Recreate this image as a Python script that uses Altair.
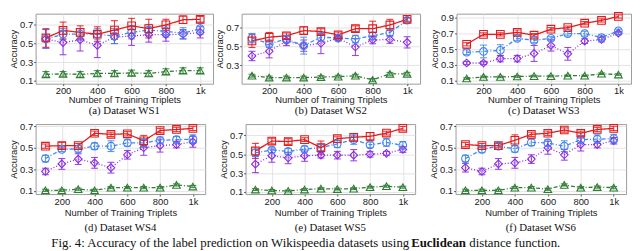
import altair as alt
import pandas as pd

X = [100, 200, 300, 400, 500, 600, 700, 800, 900, 1000]
SERIES = ["green", "purple", "blue", "red"]
COLORS = ["#2e7d32", "#8a2be2", "#3f86f0", "#e41a1c"]
SHAPES = ["triangle-up", "diamond", "circle", "square"]
DASHES = [[4, 2, 1, 2], [1, 2], [4, 2, 1, 2], [1, 0]]
X_TICKS = [200, 400, 600, 800, 1000]

# WS1
WS1_RED = [0.56, 0.64, 0.62, 0.60, 0.645, 0.69, 0.66, 0.70, 0.755, 0.76]
WS1_RED_ERR = [0.10, 0.09, 0.07, 0.08, 0.10, 0.08, 0.10, 0.06, 0.04, 0.03]
WS1_BLUE = [0.55, 0.60, 0.60, 0.60, 0.58, 0.62, 0.645, 0.63, 0.61, 0.66]
WS1_BLUE_ERR = [0.10, 0.06, 0.06, 0.06, 0.08, 0.07, 0.06, 0.06, 0.06, 0.06]
WS1_PURPLE = [0.55, 0.51, 0.54, 0.48, 0.57, 0.58, 0.595, 0.595, 0.60, 0.62]
WS1_PURPLE_ERR = [0.10, 0.13, 0.12, 0.13, 0.07, 0.10, 0.08, 0.07, 0.05, 0.06]
WS1_GREEN = [0.17, 0.175, 0.17, 0.18, 0.18, 0.185, 0.18, 0.20, 0.21, 0.21]
WS1_GREEN_ERR = [0.03, 0.025, 0.03, 0.03, 0.03, 0.03, 0.03, 0.03, 0.03, 0.03]

# WS2
WS2_RED = [0.56, 0.60, 0.615, 0.67, 0.66, 0.625, 0.69, 0.69, 0.73, 0.79]
WS2_RED_ERR = [0.07, 0.05, 0.03, 0.04, 0.03, 0.03, 0.03, 0.08, 0.06, 0.02]
WS2_BLUE = [0.59, 0.53, 0.58, 0.51, 0.60, 0.59, 0.58, 0.615, 0.65, 0.78]
WS2_BLUE_ERR = [0.05, 0.04, 0.04, 0.09, 0.04, 0.03, 0.04, 0.04, 0.04, 0.02]
WS2_PURPLE = [0.40, 0.45, 0.56, 0.51, 0.535, 0.59, 0.495, 0.57, 0.575, 0.545]
WS2_PURPLE_ERR = [0.05, 0.07, 0.05, 0.06, 0.11, 0.02, 0.09, 0.04, 0.04, 0.06]
WS2_GREEN = [0.19, 0.17, 0.17, 0.17, 0.175, 0.18, 0.19, 0.145, 0.21, 0.21]
WS2_GREEN_ERR = [0.015, 0.015, 0.015, 0.015, 0.015, 0.015, 0.015, 0.015, 0.015, 0.015]

# WS3
WS3_RED = [0.56, 0.685, 0.685, 0.71, 0.675, 0.75, 0.77, 0.825, 0.86, 0.91]
WS3_RED_ERR = [0.02, 0.02, 0.02, 0.03, 0.02, 0.02, 0.02, 0.02, 0.02, 0.02]
WS3_BLUE = [0.46, 0.47, 0.485, 0.635, 0.61, 0.635, 0.695, 0.695, 0.645, 0.73]
WS3_BLUE_ERR = [0.03, 0.08, 0.07, 0.03, 0.03, 0.02, 0.03, 0.03, 0.03, 0.02]
WS3_PURPLE = [0.325, 0.325, 0.38, 0.38, 0.445, 0.545, 0.44, 0.60, 0.62, 0.70]
WS3_PURPLE_ERR = [0.02, 0.02, 0.04, 0.04, 0.10, 0.07, 0.08, 0.03, 0.03, 0.02]
WS3_GREEN = [0.13, 0.15, 0.15, 0.155, 0.16, 0.16, 0.165, 0.165, 0.19, 0.18]
WS3_GREEN_ERR = [0.01, 0.01, 0.01, 0.01, 0.01, 0.01, 0.01, 0.01, 0.01, 0.01]

# WS4
WS4_RED = [0.515, 0.52, 0.52, 0.635, 0.625, 0.63, 0.565, 0.66, 0.67, 0.68]
WS4_RED_ERR = [0.02, 0.03, 0.02, 0.02, 0.02, 0.02, 0.05, 0.02, 0.02, 0.02]
WS4_BLUE = [0.40, 0.485, 0.49, 0.515, 0.515, 0.545, 0.545, 0.57, 0.575, 0.58]
WS4_BLUE_ERR = [0.03, 0.02, 0.03, 0.03, 0.05, 0.03, 0.04, 0.03, 0.03, 0.04]
WS4_PURPLE = [0.28, 0.35, 0.395, 0.36, 0.315, 0.435, 0.50, 0.52, 0.53, 0.555]
WS4_PURPLE_ERR = [0.03, 0.05, 0.05, 0.05, 0.05, 0.04, 0.07, 0.06, 0.03, 0.05]
WS4_GREEN = [0.105, 0.105, 0.115, 0.105, 0.13, 0.13, 0.13, 0.13, 0.155, 0.14]
WS4_GREEN_ERR = [0.01, 0.01, 0.01, 0.01, 0.01, 0.01, 0.01, 0.01, 0.01, 0.01]

# WS5
WS5_RED = [0.535, 0.64, 0.635, 0.655, 0.57, 0.665, 0.68, 0.69, 0.725, 0.775]
WS5_RED_ERR = [0.08, 0.03, 0.03, 0.02, 0.07, 0.02, 0.04, 0.04, 0.02, 0.02]
WS5_BLUE = [0.515, 0.545, 0.53, 0.555, 0.57, 0.61, 0.655, 0.60, 0.625, 0.595]
WS5_BLUE_ERR = [0.04, 0.03, 0.03, 0.03, 0.03, 0.04, 0.05, 0.03, 0.04, 0.04]
WS5_PURPLE = [0.395, 0.485, 0.46, 0.485, 0.49, 0.49, 0.49, 0.50, 0.51, 0.55]
WS5_PURPLE_ERR = [0.09, 0.07, 0.06, 0.06, 0.03, 0.04, 0.06, 0.03, 0.02, 0.03]
WS5_GREEN = [0.125, 0.115, 0.11, 0.125, 0.135, 0.13, 0.135, 0.15, 0.16, 0.15]
WS5_GREEN_ERR = [0.01, 0.01, 0.01, 0.01, 0.01, 0.01, 0.01, 0.01, 0.01, 0.01]

# WS6
WS6_RED = [0.53, 0.52, 0.52, 0.57, 0.625, 0.635, 0.665, 0.635, 0.67, 0.68]
WS6_RED_ERR = [0.02, 0.02, 0.02, 0.05, 0.02, 0.02, 0.02, 0.02, 0.02, 0.02]
WS6_BLUE = [0.40, 0.485, 0.515, 0.49, 0.55, 0.545, 0.515, 0.575, 0.58, 0.585]
WS6_BLUE_ERR = [0.03, 0.03, 0.03, 0.03, 0.03, 0.03, 0.05, 0.03, 0.04, 0.04]
WS6_PURPLE = [0.315, 0.28, 0.35, 0.36, 0.395, 0.50, 0.435, 0.53, 0.53, 0.565]
WS6_PURPLE_ERR = [0.04, 0.03, 0.05, 0.05, 0.04, 0.06, 0.05, 0.06, 0.03, 0.03]
WS6_GREEN = [0.105, 0.105, 0.105, 0.13, 0.13, 0.115, 0.155, 0.13, 0.135, 0.13]
WS6_GREEN_ERR = [0.01, 0.01, 0.01, 0.01, 0.01, 0.01, 0.01, 0.01, 0.01, 0.01]

CAPTION_1 = "Fig. 4: Accuracy of the label prediction on Wikispeedia datasets using"
CAPTION_2 = "Euclidean"
CAPTION_3 = "distance function."

AX_FONT = "Liberation Sans"


def panel(caption, green, green_err, purple, purple_err, blue, blue_err,
          red, red_err, ydomain, yticks, width, height, pad, cap_offset):
    rows = []
    for s, m, e in [("green", green, green_err), ("purple", purple, purple_err),
                    ("blue", blue, blue_err), ("red", red, red_err)]:
        for xv, mv, ev in zip(X, m, e):
            rows.append({"x": xv, "series": s, "mean": mv, "lo": mv - ev, "hi": mv + ev})
    df = pd.DataFrame(rows)
    base = alt.Chart(df)
    xenc = alt.X("x:Q", scale=alt.Scale(domain=[40, 1075], nice=False, zero=False),
                 axis=alt.Axis(values=X_TICKS, title="Number of Training Triplets",
                               labelPadding=pad, titlePadding=pad,
                               labelExpr="datum.value == 1000 ? '1k' : datum.label"))
    yscale = alt.Scale(domain=ydomain, nice=False, zero=False)
    yaxis = alt.Axis(values=yticks, format=".1f", title="Accuracy",
                     labelPadding=1, titlePadding=1)
    color = alt.Color("series:N", scale=alt.Scale(domain=SERIES, range=COLORS), legend=None)
    err = base.mark_errorbar(ticks=True, size=7, thickness=1.1, opacity=0.85).encode(
        x=xenc, y=alt.Y("lo:Q", scale=yscale, axis=yaxis), y2="hi:Q", color=color)
    line = base.mark_line(strokeWidth=1.3).encode(
        x=xenc, y=alt.Y("mean:Q", scale=yscale, axis=yaxis), color=color,
        strokeDash=alt.StrokeDash("series:N", scale=alt.Scale(domain=SERIES, range=DASHES), legend=None))
    pts = base.mark_point(filled=False, size=60, strokeWidth=1.1, opacity=1).encode(
        x=xenc, y=alt.Y("mean:Q", scale=yscale, axis=yaxis), color=color,
        shape=alt.Shape("series:N", scale=alt.Scale(domain=SERIES, range=SHAPES), legend=None))
    return alt.layer(err, line, pts).properties(
        width=width, height=height,
        title=alt.TitleParams(caption, orient="bottom", anchor="middle", offset=cap_offset))


p1 = panel("(a) Dataset WS1", WS1_GREEN, WS1_GREEN_ERR, WS1_PURPLE, WS1_PURPLE_ERR,
           WS1_BLUE, WS1_BLUE_ERR, WS1_RED, WS1_RED_ERR, [0.07, 0.82], [0.1, 0.3, 0.5, 0.7],
           180, 71, 0, 1)
p2 = panel("(b) Dataset WS2", WS2_GREEN, WS2_GREEN_ERR, WS2_PURPLE, WS2_PURPLE_ERR,
           WS2_BLUE, WS2_BLUE_ERR, WS2_RED, WS2_RED_ERR, [0.105, 0.85], [0.3, 0.5, 0.7],
           181, 71, 0, 1)
p3 = panel("(c) Dataset WS3", WS3_GREEN, WS3_GREEN_ERR, WS3_PURPLE, WS3_PURPLE_ERR,
           WS3_BLUE, WS3_BLUE_ERR, WS3_RED, WS3_RED_ERR, [0.065, 0.945], [0.1, 0.3, 0.5, 0.7, 0.9],
           177, 71, 0, 1)
p4 = panel("(d) Dataset WS4", WS4_GREEN, WS4_GREEN_ERR, WS4_PURPLE, WS4_PURPLE_ERR,
           WS4_BLUE, WS4_BLUE_ERR, WS4_RED, WS4_RED_ERR, [0.07, 0.72], [0.1, 0.3, 0.5, 0.7],
           172, 71, 1, 5)
p5 = panel("(e) Dataset WS5", WS5_GREEN, WS5_GREEN_ERR, WS5_PURPLE, WS5_PURPLE_ERR,
           WS5_BLUE, WS5_BLUE_ERR, WS5_RED, WS5_RED_ERR, [0.077, 0.82], [0.1, 0.3, 0.5, 0.7],
           172, 71, 1, 5)
p6 = panel("(f) Dataset WS6", WS6_GREEN, WS6_GREEN_ERR, WS6_PURPLE, WS6_PURPLE_ERR,
           WS6_BLUE, WS6_BLUE_ERR, WS6_RED, WS6_RED_ERR, [0.07, 0.72], [0.1, 0.3, 0.5, 0.7],
           173, 71, 1, 5)

row1 = alt.hconcat(alt.hconcat(p1, p2, spacing=0), p3, spacing=8)
row2 = alt.hconcat(p4, p5, p6, spacing=12)

CAP_SIZE = 13
cap_base = alt.Chart(pd.DataFrame({"a": [0]}))
c1 = cap_base.mark_text(align="left", baseline="middle", font="Liberation Serif",
                        fontSize=CAP_SIZE, color="#111").encode(
    x=alt.value(16), y=alt.value(5), text=alt.value(CAPTION_1))
c2 = cap_base.mark_text(align="left", baseline="middle", font="Liberation Serif",
                        fontSize=CAP_SIZE, fontWeight="bold", color="#111").encode(
    x=alt.value(381), y=alt.value(5), text=alt.value(CAPTION_2))
c3 = cap_base.mark_text(align="left", baseline="middle", font="Liberation Serif",
                        fontSize=CAP_SIZE, color="#111").encode(
    x=alt.value(440), y=alt.value(5), text=alt.value(CAPTION_3))
cap = alt.layer(c1, c2, c3).properties(width=580, height=10,
                                       view=alt.ViewBackground(stroke="transparent"))

chart = alt.vconcat(row1, row2, cap, spacing=3).properties(padding=0).configure_axis(
    labelFont=AX_FONT, titleFont=AX_FONT, labelFontSize=9.5, titleFontSize=9.5,
    titleFontWeight="normal", labelColor="#222", titleColor="#222",
    gridColor="#dcdcdc", gridWidth=0.8, domain=False, tickColor="#555", tickSize=2
).configure_view(stroke="#9a9a9a").configure_title(
    font="Liberation Serif", fontSize=11, fontWeight="normal", color="#111"
)

chart.save("out.html", embed_options={"renderer": "svg", "actions": False})
